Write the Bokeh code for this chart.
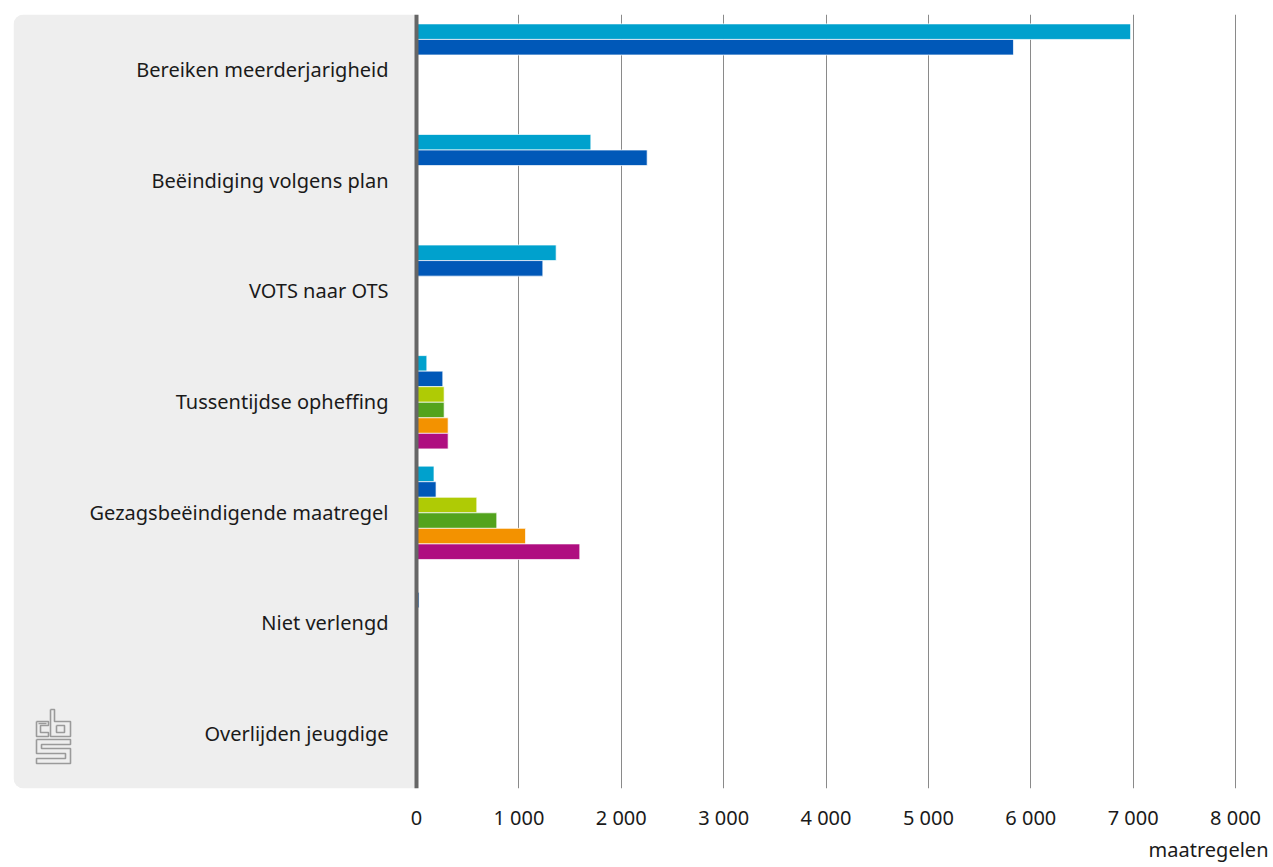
from bokeh.plotting import figure
from bokeh.models import (Range1d, FixedTicker, CustomJSTickFormatter, BoxAnnotation,
                          Span, Title, ColumnDataSource)
from bokeh.core.properties import value
from bokeh.embed import file_html
from bokeh.resources import INLINE

# ---------------- data ----------------
categories = ["Bereiken meerderjarigheid", "Beëindiging volgens plan", "VOTS naar OTS",
              "Tussentijdse opheffing", "Gezagsbeëindigende maatregel", "Niet verlengd",
              "Overlijden jeugdige"]
series_names = ["serie 1", "serie 2", "serie 3", "serie 4", "serie 5", "serie 6"]
serie_1 = [6975, 1703, 1364, 101, 171, 0, 0]
serie_2 = [5831, 2253, 1234, 257, 191, 25, 0]
serie_3 = [0, 0, 0, 270, 589, 0, 0]
serie_4 = [0, 0, 0, 270, 784, 0, 0]
serie_5 = [0, 0, 0, 309, 1065, 0, 0]
serie_6 = [0, 0, 0, 309, 1595, 0, 0]
x_ticks = [0, 1000, 2000, 3000, 4000, 5000, 6000, 7000, 8000]
x_label = "maatregelen"

series_values = [serie_1, serie_2, serie_3, serie_4, serie_5, serie_6]
colors = ["#00a1cd", "#0058b8", "#afcb05", "#53a31d", "#f39200", "#af0e80"]

FONT = "Noto Sans"
TEXT = "#1a1a1a"
FS = "20px"

# ---------------- layout (figure sits at page top-left) ----------------
PX_PER_UNIT = 0.10238          # px per maatregel
ZERO_SX = 416                  # x of value 0
FRAME_L, FRAME_R = 13, 1265
FRAME_T, FRAME_B = 14, 788
n = len(categories)
PX_PER_CAT = (FRAME_B - FRAME_T) / n

x_start = -(ZERO_SX - FRAME_L) / PX_PER_UNIT
x_end = (FRAME_R - ZERO_SX) / PX_PER_UNIT

W, H = 1271, 866
p = figure(width=W, height=H, output_backend="svg", toolbar_location=None,
           x_range=Range1d(x_start, x_end), y_range=Range1d(0, n),
           min_border_left=FRAME_L, min_border_right=W - FRAME_R,
           min_border_top=FRAME_T, min_border_bottom=H - FRAME_B)
p.outline_line_color = None
p.background_fill_color = "white"
p.border_fill_color = "white"
p.yaxis.visible = False
p.ygrid.visible = False

# grey panel behind the category labels
panel = BoxAnnotation(left=x_start, right=0, bottom=0, top=n,
                      fill_color="#eeeeee", fill_alpha=1, line_color=None,
                      border_radius=(10, 0, 0, 10), level="underlay")
p.add_layout(panel)

# grid
p.xgrid.ticker = FixedTicker(ticks=[t for t in x_ticks if t > 0])
p.xgrid.grid_line_color = "#8a8a8a"
p.xgrid.grid_line_width = 1

# x axis
ax = p.xaxis[0]
ax.ticker = FixedTicker(ticks=x_ticks)
ax.formatter = CustomJSTickFormatter(
    code="return tick.toFixed(0).replace(/\\B(?=(\\d{3})+(?!\\d))/g, ' ');")
ax.axis_line_color = None
ax.major_tick_line_color = None
ax.minor_tick_line_color = None
ax.major_tick_in = 0
ax.major_tick_out = 0
ax.major_label_standoff = 15
ax.major_label_text_font = FONT
ax.major_label_text_font_size = FS
ax.major_label_text_color = TEXT

# unit label bottom right
p.add_layout(Title(text=x_label, align="right", text_font=FONT, text_font_size=FS,
                   text_font_style="normal", text_color=TEXT, standoff=0, offset=-3),
             "below")

# bars
pitch = 15.55 / PX_PER_CAT
first_off = (55.3 - 9.4 - 15.55 / 2) / PX_PER_CAT
for j, (name, vals, col) in enumerate(zip(series_names, series_values, colors)):
    ys, xs = [], []
    for i, v in enumerate(vals):
        if v > 0:
            ys.append(n - 0.5 - i + first_off - j * pitch)
            xs.append(v)
    src = ColumnDataSource(dict(y=ys, right=xs))
    p.hbar(y="y", left=0, right="right", height=pitch, source=src,
           fill_color=col, line_color="white", line_alpha=0.7, line_width=1,
           legend_label=name)
p.legend.visible = False

# axis line at 0
p.add_layout(Span(location=0, dimension="height", line_color="#666666", line_width=4))

# category labels
lab_src = ColumnDataSource(dict(x=[0] * n, y=[n - 0.5 - i for i in range(n)], t=categories))
p.text(x="x", y="y", text="t", source=lab_src, x_offset=-28, text_align="right",
       text_baseline="middle", text_font=value(FONT), text_font_size=FS,
       text_color=TEXT)

# cbs logo (decoration), defined in px and converted to data
def sx(v):
    return (v - ZERO_SX) / PX_PER_UNIT

def sy(v):
    return (FRAME_B - v) / PX_PER_CAT

logo_paths = [
    # c
    [(36, 721), (48, 721), (48, 725), (40, 725), (40, 732), (48, 732), (48, 736), (36, 736), (36, 721)],
    [(38, 723), (46, 723)],
    # b
    [(50, 709), (54, 709), (54, 721), (70, 721), (70, 736), (50, 736), (50, 709)],
    [(56, 725), (64, 725), (64, 732), (56, 732), (56, 725)],
    # s
    [(36, 739), (70, 739), (70, 744), (41, 744), (41, 748), (70, 748), (70, 763),
     (36, 763), (36, 758), (65, 758), (65, 753), (36, 753), (36, 739)],
]
p.multi_line(xs=[[sx(a) for a, b in path] for path in logo_paths],
             ys=[[sy(b) for a, b in path] for path in logo_paths],
             line_color="#9a9a9a", line_width=1.6)

open("out.html", "w").write(file_html(p, INLINE))
